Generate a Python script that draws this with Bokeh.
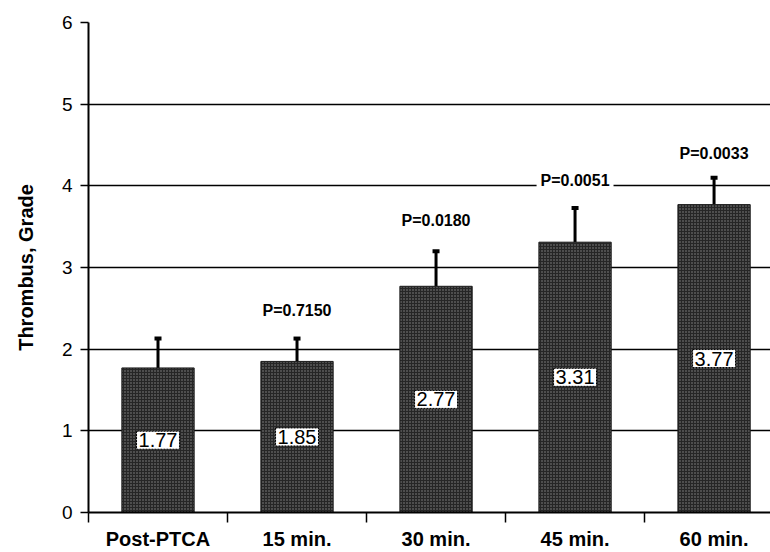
from bokeh.plotting import figure
from bokeh.models import Range1d, FixedTicker, ColumnDataSource, Whisker, TeeHead
from bokeh.core.properties import value
from bokeh.embed import file_html
from bokeh.resources import INLINE

categories = ["Post-PTCA", "15 min.", "30 min.", "45 min.", "60 min."]
means = [1.77, 1.85, 2.77, 3.31, 3.77]
err_top = [2.13, 2.13, 3.20, 3.73, 4.10]
p_labels = ["", "P=0.7150", "P=0.0180", "P=0.0051", "P=0.0033"]
p_label_y = [0, 2.47, 3.58, 4.06, 4.39]
y_ticks = [0, 1, 2, 3, 4, 5, 6]

FONT = "Liberation Sans"
xs = list(range(len(categories)))

src = ColumnDataSource(dict(
    x=xs, top=means, err=err_top,
    mid=[m / 2 for m in means],
    lab=["%.2f" % m for m in means],
))

p = figure(width=770, height=552, output_backend="svg", toolbar_location=None,
           x_range=Range1d(-0.5, 4.406), y_range=Range1d(0, 6),
           min_border_left=88, min_border_right=0, min_border_top=22, min_border_bottom=35)
p.outline_line_color = None
p.background_fill_color = "white"

# grid
p.xgrid.visible = False
p.ygrid.ticker = FixedTicker(ticks=y_ticks)
p.ygrid.grid_line_color = "black"
p.ygrid.grid_line_width = 1.5

# bars
p.vbar(x="x", top="top", width=0.52, source=src, fill_color="#262626",
       line_color="#1a1a1a", line_width=1,
       hatch_pattern="dot", hatch_color="#8a8a8a", hatch_scale=3, hatch_weight=1)

# error bars (upper only)
wh = Whisker(base="x", upper="err", lower="top", source=src,
             line_color="black", line_width=3,
             upper_head=TeeHead(size=7, line_width=4, line_color="black"),
             lower_head=None)
p.add_layout(wh)

# value labels
p.text(x="x", y="mid", text="lab", source=src, text_align="center", text_baseline="middle",
       text_font=value(FONT), text_font_size="20px", text_color="black",
       background_fill_color="white", border_line_color="black", border_line_width=1,
       border_line_dash="2 1", padding=2)

# p-value labels
psrc = ColumnDataSource(dict(x=xs[1:], y=p_label_y[1:], t=p_labels[1:]))
p.text(x="x", y="y", text="t", source=psrc, text_align="center", text_baseline="middle",
       text_font=value(FONT), text_font_size="16px", text_font_style="bold",
       text_color="black", background_fill_color="white", padding=4)

# y axis
ya = p.yaxis[0]
ya.ticker = FixedTicker(ticks=y_ticks)
ya.axis_label = "Thrombus, Grade"
ya.axis_label_text_font = FONT
ya.axis_label_text_font_style = "bold"
ya.axis_label_text_font_size = "20px"
ya.axis_label_text_color = "black"
ya.axis_label_standoff = 22
ya.major_label_text_font = FONT
ya.major_label_text_font_size = "19px"
ya.major_label_text_color = "black"
ya.major_label_standoff = 8
ya.axis_line_width = 2
ya.major_tick_line_width = 1.5
ya.major_tick_out = 8
ya.major_tick_in = 0
ya.minor_tick_line_color = None

# x axis
xa = p.xaxis[0]
xa.ticker = FixedTicker(ticks=xs, minor_ticks=[-0.5, 0.5, 1.5, 2.5, 3.5, 4.5])
xa.major_label_overrides = {i: c for i, c in enumerate(categories)}
xa.major_tick_line_color = None
xa.minor_tick_out = 10
xa.minor_tick_in = 0
xa.minor_tick_line_width = 1.5
xa.axis_line_width = 2
xa.major_label_text_font = FONT
xa.major_label_text_font_style = "bold"
xa.major_label_text_font_size = "20px"
xa.major_label_text_color = "black"
xa.major_label_standoff = 5

open("out.html", "w").write(file_html(p, INLINE))
